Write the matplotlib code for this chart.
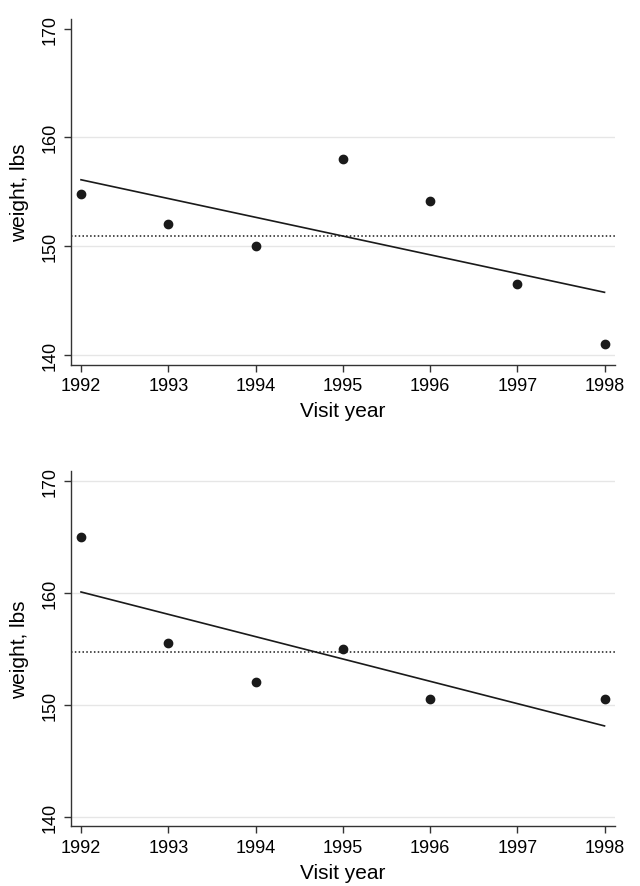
import numpy as np
import matplotlib
matplotlib.use('Agg')
import matplotlib.pyplot as plt

plt.rcParams['font.family'] = ['Liberation Sans', 'DejaVu Sans']

# data
years_top = [1992, 1993, 1994, 1995, 1996, 1997, 1998]
weight_top = [154.8, 152.0, 150.0, 158.0, 154.1, 146.5, 141.0]
grid_top = [140, 150, 160]

years_bot = [1992, 1993, 1994, 1995, 1996, 1998]
weight_bot = [165.0, 155.5, 152.0, 155.0, 150.5, 150.5]
grid_bot = [140, 150, 160, 170]

yticks = [140, 150, 160, 170]
xticks = [1992, 1993, 1994, 1995, 1996, 1997, 1998]

fig = plt.figure(figsize=(6.4, 8.87), dpi=100)
ax1 = fig.add_axes([0.1109, 0.5877, 0.85, 0.3897])
ax2 = fig.add_axes([0.1109, 0.0671, 0.85, 0.4011])

def draw_panel(ax, years, weights, grid, ylim):
    years = np.array(years, dtype=float)
    weights = np.array(weights, dtype=float)
    for g in grid:
        ax.axhline(g, color='#e6e6e6', lw=1.0, zorder=0)
    # mean line
    ax.axhline(weights.mean(), color='#1a1a1a', lw=1.1, ls=(0, (1, 1.5)), zorder=1)
    # linear fit
    b, a = np.polyfit(years, weights, 1)
    xs = np.array([years.min(), years.max()])
    ax.plot(xs, a + b * xs, color='#1a1a1a', lw=1.2, zorder=2)
    ax.plot(years, weights, 'o', color='#1a1a1a', ms=6, zorder=3)

    ax.set_xlim(1991.885, 1998.12)
    ax.set_ylim(*ylim)
    ax.set_xticks(xticks)
    ax.set_yticks(yticks)
    ax.set_yticklabels([str(t) for t in yticks], rotation=90, va='center')
    for s in ['top', 'right']:
        ax.spines[s].set_visible(False)
    for s in ['left', 'bottom']:
        ax.spines[s].set_color('#333333')
        ax.spines[s].set_linewidth(1.0)
    ax.tick_params(direction='out', length=5, width=1.0, color='#333333',
                   labelsize=13, pad=4)
    ax.set_xlabel('Visit year', fontsize=15, labelpad=5)
    ax.set_ylabel('weight, lbs', fontsize=15, labelpad=9)

draw_panel(ax1, years_top, weight_top, grid_top, (139.08, 170.87))
draw_panel(ax2, years_bot, weight_bot, grid_bot, (139.13, 170.89))

fig.savefig('out.png', dpi=100)
